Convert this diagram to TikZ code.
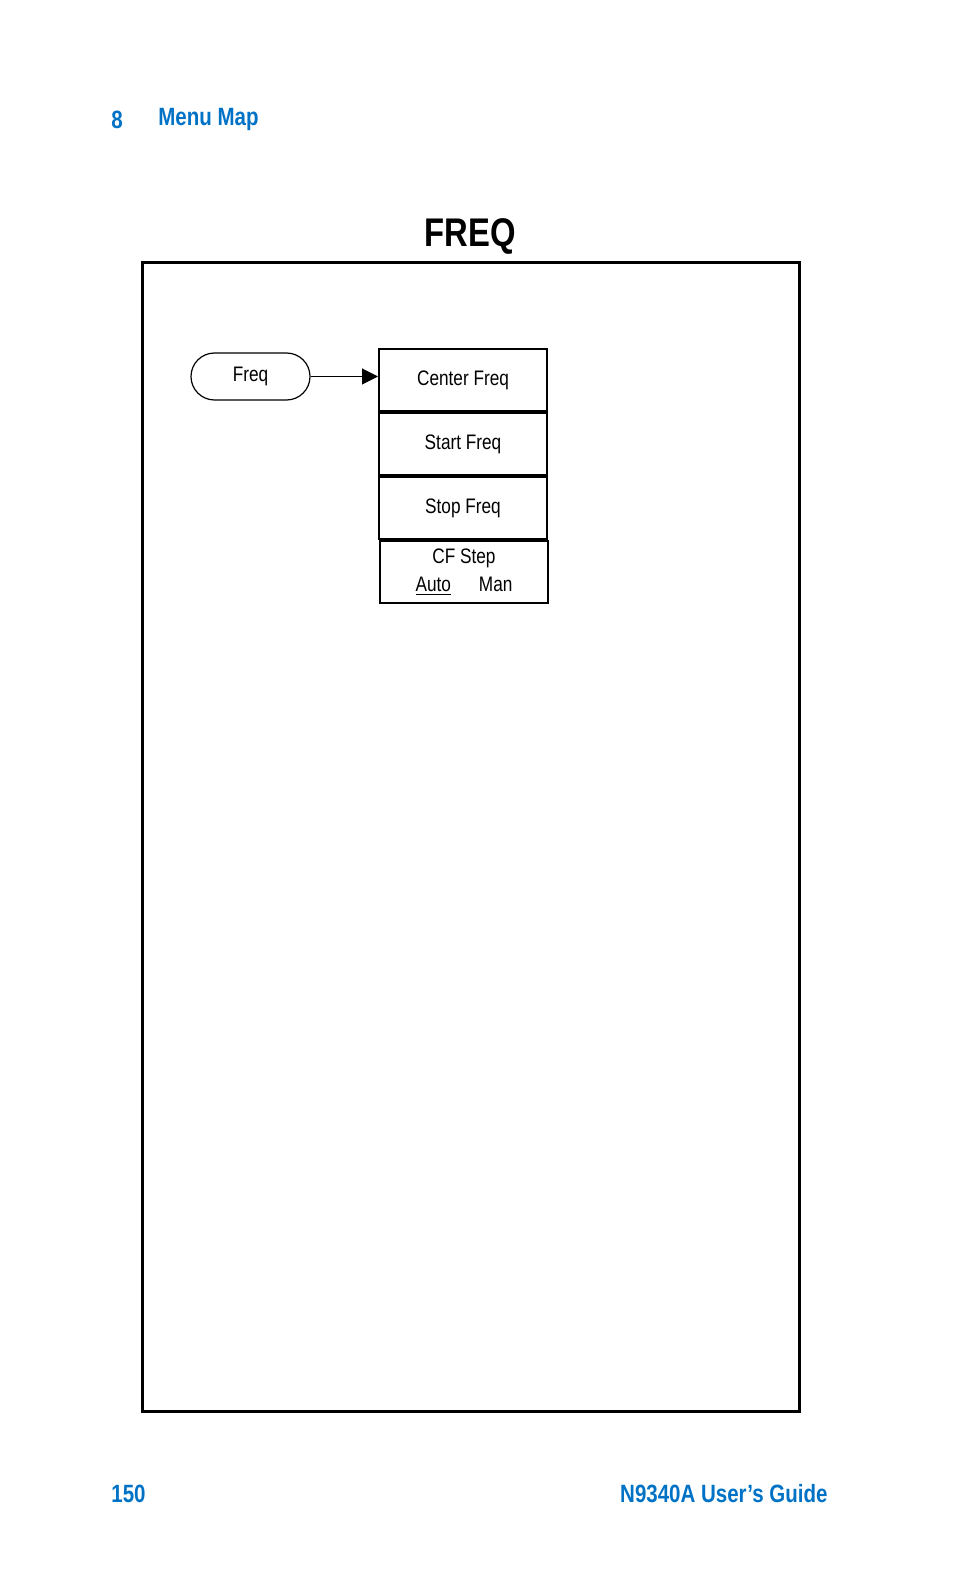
\documentclass[tikz,border=0pt]{standalone}
\usepackage{fontspec}
\setmainfont{Liberation Sans}[FakeStretch=0.82]
\usetikzlibrary{positioning}
\usetikzlibrary{arrows.meta}
\definecolor{agblue}{RGB}{0,114,198}
\tikzset{
  menubox/.style={draw, line width=1pt, minimum width=84pt, minimum height=31pt, inner sep=0pt, font=\fontsize{10.5}{12}\selectfont},
  keypill/.style={draw, line width=0.6pt, rounded corners=11.75pt, minimum width=59.5pt, minimum height=23.5pt, font=\fontsize{10.5}{12}\selectfont},
  headtext/.style={text=agblue, font=\bfseries\fontsize{12.5}{14}\selectfont, inner sep=0pt}
}
\begin{document}
\begin{tikzpicture}[x=0.5pt,y=-0.5pt]
%--------------------------------------------------
\useasboundingbox (0,0) rectangle (954,1572);

% page header and footer
\node[headtext, anchor=west] (chap) at (111,120) {8};
\node[headtext, anchor=west] (chaptitle) at (158,120) {Menu Map};
\node[headtext, anchor=west] (pagenum) at (111,1494) {150};
\node[headtext, anchor=east] (guide) at (828,1494) {N9340A User’s Guide};

% title and frame
\node[font=\bfseries\fontsize{20}{22}\selectfont] (title) at (470,236) {FREQ};
\draw[line width=1.5pt] (142,263) rectangle (799,1411);

% key and its menu
\node[keypill] (freqkey) at (250.5,376.5) {Freq};
\node[menubox] (center) at (463,380) {Center Freq};
\node[menubox, below=0pt of center] (start) {Start Freq};
\node[menubox, below=0pt of start] (stop) {Stop Freq};
\node[menubox, below=0pt of stop, xshift=0.5pt, align=center] (cfstep)
  {CF Step\\[2pt]\underline{Auto}\hspace{14pt}Man};

\draw[line width=0.5pt, -{Triangle[length=8pt,width=8pt]}] (freqkey.east) -- (center.west |- freqkey.east);

%--------------------------------------------------
\end{tikzpicture}
\end{document}
